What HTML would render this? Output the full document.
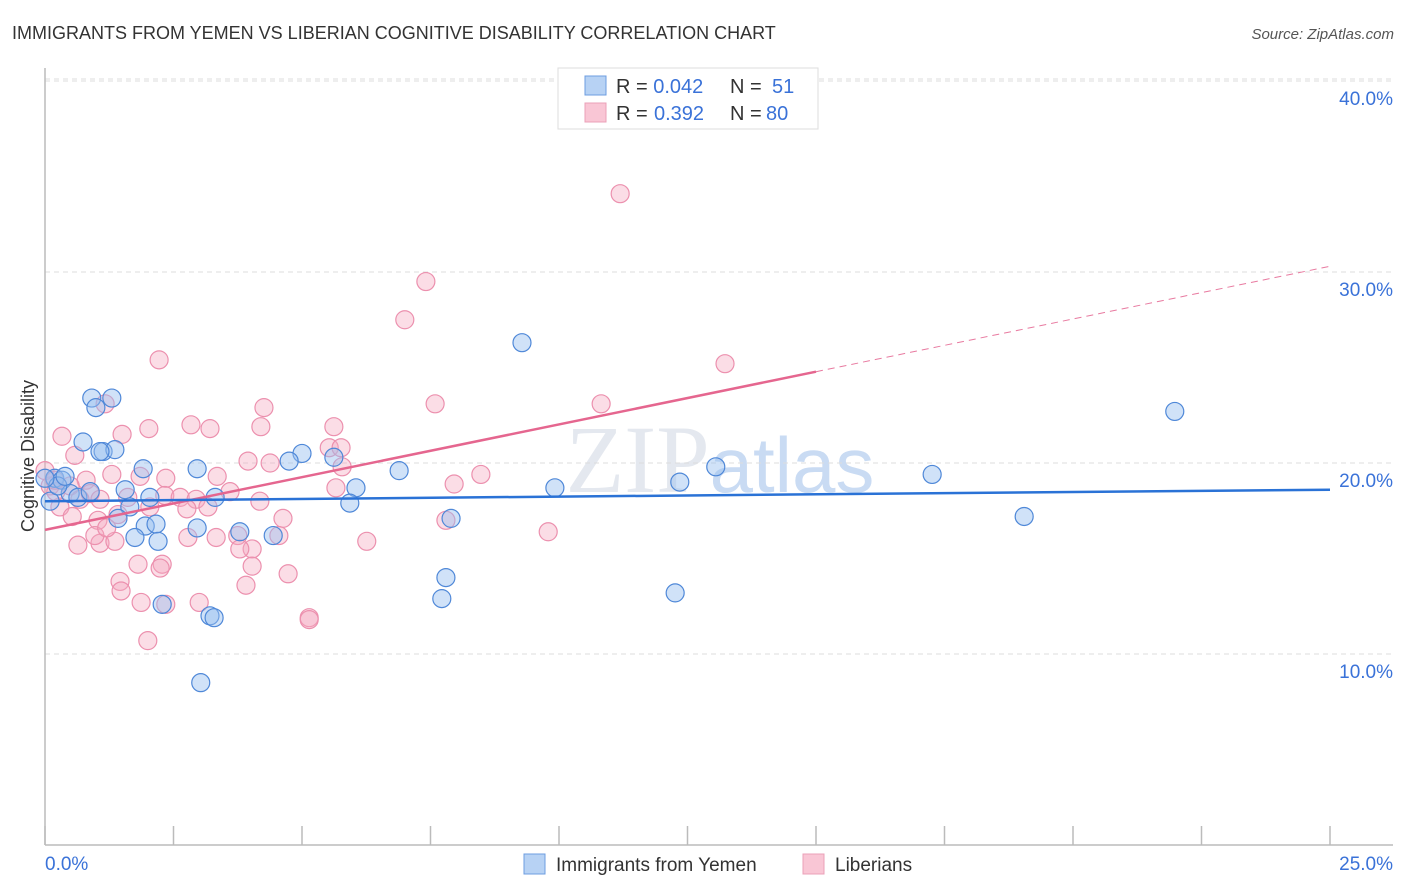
<!DOCTYPE html>
<html><head><meta charset="utf-8"><style>
body{margin:0;background:#fff;font-family:"Liberation Sans",sans-serif}
</style></head><body>
<svg id="chart" width="1406" height="892" xmlns="http://www.w3.org/2000/svg" style="display:block">
<text x="12" y="39" font-size="18" fill="#333">IMMIGRANTS FROM YEMEN VS LIBERIAN COGNITIVE DISABILITY CORRELATION CHART</text>
<text x="1394" y="39" font-size="15" fill="#555" font-style="italic" text-anchor="end">Source: ZipAtlas.com</text>
<text x="720" y="492" font-size="96" fill="#e4e8ef" text-anchor="middle" font-family="Liberation Serif,serif">ZIP<tspan fill="#c9dbf3" font-family="Liberation Sans,sans-serif" font-size="78">atlas</tspan></text>
<g id="grid"></g><g id="axes"></g><g id="pts"></g><g id="trend"></g>
<text transform="translate(34,456) rotate(-90)" font-size="18" fill="#333" text-anchor="middle">Cognitive Disability</text>
<g>
<rect x="558" y="68" width="260" height="61" fill="#fff" stroke="#ddd"/>
<rect x="585" y="76" width="21" height="19" fill="#b7d2f4" stroke="#6c9de0"/>
<rect x="585" y="103" width="21" height="19" fill="#f9c6d5" stroke="#eba0b8"/>
<text x="616" y="93" font-size="20" fill="#333">R = <tspan fill="#3a72d8">0.042</tspan><tspan x="730">N = </tspan><tspan x="772" fill="#3a72d8">51</tspan></text>
<text x="616" y="120" font-size="20" fill="#333">R = <tspan x="654" fill="#3a72d8">0.392</tspan><tspan x="730">N = </tspan><tspan x="766" fill="#3a72d8">80</tspan></text>
</g>
<g>
<rect x="524" y="854" width="21" height="20" fill="#b7d2f4" stroke="#6c9de0"/>
<text x="556" y="871" font-size="19" fill="#333">Immigrants from Yemen</text>
<rect x="803" y="854" width="21" height="20" fill="#f9c6d5" stroke="#eba0b8"/>
<text x="835" y="871" font-size="19" fill="#333">Liberians</text>
</g>
</svg>
<script>
const yTicks=[10,20,30,40];
const yTickLabels=["10.0%","20.0%","30.0%","40.0%"];
const xTicks=[0,2.5,5,7.5,10,12.5,15,17.5,20,22.5,25];
const xTickLabels=["0.0%","25.0%"];
const blueX=[0.91,1.30,0.99,0.74,1.13,1.36,1.07,1.91,2.96,5.00,4.75,5.62,6.89,9.28,13.05,12.35,9.92,17.26,21.98,19.05,0.19,0.33,0.10,0.49,0.64,0.88,1.56,1.65,2.04,1.42,1.95,2.16,1.75,2.20,2.96,3.31,3.79,4.44,6.05,5.93,7.90,7.80,7.72,12.26,2.28,3.21,3.29,3.03,0.25,0.0,0.39];
const blueY=[23.4,23.4,22.9,21.1,20.6,20.7,20.6,19.7,19.7,20.5,20.1,20.3,19.6,26.3,19.8,19.0,18.7,19.4,22.7,17.2,19.2,19.1,18.0,18.4,18.2,18.5,18.6,17.7,18.2,17.1,16.7,16.8,16.1,15.9,16.6,18.2,16.4,16.2,18.7,17.9,17.1,14.0,12.9,13.2,12.6,12.0,11.9,8.5,18.8,19.2,19.3];
const pinkX=[2.22,7.41,7.00,11.19,13.23,10.82,7.59,4.26,5.62,0.33,0.58,1.17,2.02,2.84,3.21,1.50,4.20,4.38,3.95,3.35,2.35,1.85,1.30,0.80,0.10,0.49,0.88,0.29,0.53,1.03,1.42,1.61,2.04,2.33,2.63,2.94,3.60,2.76,3.17,4.18,4.63,3.75,4.03,3.79,4.55,5.53,5.76,5.78,5.66,7.96,8.48,7.80,9.79,6.26,2.78,3.33,2.28,1.81,1.46,1.48,0.64,1.07,0.97,2.24,3.91,4.03,4.73,1.87,2.35,3.00,5.14,5.14,2.00,0.68,0.21,1.07,0.0,0.19,1.36,1.20];
const pinkY=[25.4,29.5,27.5,34.1,25.2,23.1,23.1,22.9,21.9,21.4,20.4,23.1,21.8,22.0,21.8,21.5,21.9,20.0,20.1,19.3,19.2,19.3,19.4,19.1,18.8,18.8,18.4,17.7,17.2,17.0,17.3,18.2,17.7,18.3,18.2,18.1,18.5,17.6,17.7,18.0,17.1,16.2,15.5,15.5,16.2,20.8,20.8,19.8,18.7,18.9,19.4,17.0,16.4,15.9,16.1,16.1,14.7,14.7,13.8,13.3,15.7,15.8,16.2,14.5,13.6,14.6,14.2,12.7,12.6,12.7,11.9,11.8,10.7,18.1,18.5,18.1,19.6,19.1,15.9,16.6];
const blueTrend=[18.0,18.6];
const pinkTrend=[16.5,30.3];
const pinkSolidEnd=15;
const NS="http://www.w3.org/2000/svg";
const X=v=>45+v/25*1285, Y=v=>845-v*19.1;
function mk(tag,attrs,parent){const e=document.createElementNS(NS,tag);for(const k in attrs)e.setAttribute(k,attrs[k]);document.getElementById(parent).appendChild(e);return e;}
yTicks.forEach((t,i)=>{
 const l=mk('line',{x1:45,x2:1393,y1:Y(t),y2:Y(t),stroke:'#ddd','stroke-dasharray':'5,4'},'grid');
 
 
 const tx=mk('text',{x:1393,y:Y(t)+24,'font-size':19,fill:'#3a72d8','text-anchor':'end'},'grid');
 tx.textContent=yTickLabels[i];
 
 
});
const tl=mk('line',{x1:45,x2:1393,y1:Y(40)-2,y2:Y(40)-2,stroke:'#ddd','stroke-dasharray':'5,4'},'grid');
const ya=mk('line',{x1:45,x2:45,y1:68,y2:845,stroke:'#bbb','stroke-width':1.5},'axes');


const xa=mk('line',{x1:45,x2:1393,y1:845,y2:845,stroke:'#bbb','stroke-width':1.5},'axes');


xTicks.forEach(t=>{const l=mk('line',{x1:X(t),x2:X(t),y1:826,y2:845,stroke:'#bbb','stroke-width':1.5},'axes');
 
 });
const xl0=mk('text',{x:45,y:870,'font-size':19,fill:'#3a72d8'},'axes');xl0.textContent=xTickLabels[0];


const xl1=mk('text',{x:1393,y:870,'font-size':19,fill:'#3a72d8','text-anchor':'end'},'axes');xl1.textContent=xTickLabels[1];


pinkX.forEach((v,i)=>{const c=mk('circle',{cx:X(v),cy:Y(pinkY[i]),r:9,fill:'rgba(246,170,192,0.4)',stroke:'#ec90ae','stroke-width':1.2},'pts');
 
 });
blueX.forEach((v,i)=>{const c=mk('circle',{cx:X(v),cy:Y(blueY[i]),r:9,fill:'rgba(150,190,240,0.45)',stroke:'#4f88d8','stroke-width':1.2},'pts');
 
 });
const pAt=x=>pinkTrend[0]+(pinkTrend[1]-pinkTrend[0])*x/25;
const pd=mk('line',{x1:X(pinkSolidEnd),y1:Y(pAt(pinkSolidEnd)),x2:X(25),y2:Y(pinkTrend[1]),stroke:'#e87aa0','stroke-width':1,'stroke-dasharray':'7,5'},'trend');


const ps=mk('line',{x1:X(0),y1:Y(pinkTrend[0]),x2:X(pinkSolidEnd),y2:Y(pAt(pinkSolidEnd)),stroke:'#e5668f','stroke-width':2.5},'trend');


const bs=mk('line',{x1:X(0),y1:Y(blueTrend[0]),x2:X(25),y2:Y(blueTrend[1]),stroke:'#2a72d6','stroke-width':2.5},'trend');


</script>
</body></html>
